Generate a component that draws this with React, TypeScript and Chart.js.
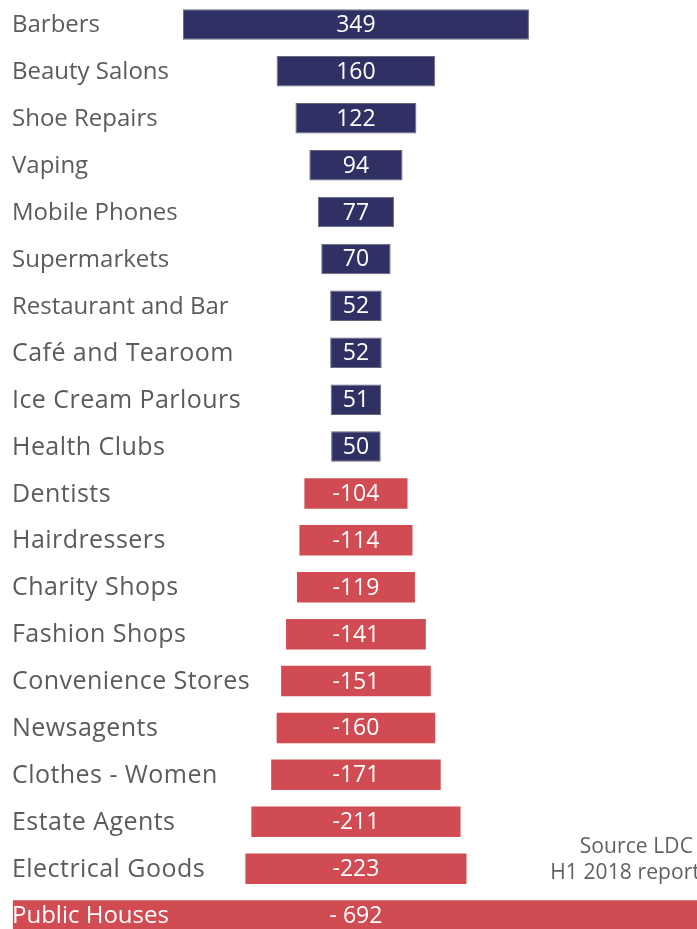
import React, { useEffect, useRef } from 'react';
import { Chart, registerables } from 'chart.js';

Chart.register(...registerables);

const categories = [
  'Barbers', 'Beauty Salons', 'Shoe Repairs', 'Vaping', 'Mobile Phones', 'Supermarkets',
  'Restaurant and Bar', 'Café and Tearoom', 'Ice Cream Parlours', 'Health Clubs',
  'Dentists', 'Hairdressers', 'Charity Shops', 'Fashion Shops', 'Convenience Stores',
  'Newsagents', 'Clothes - Women', 'Estate Agents', 'Electrical Goods', 'Public Houses',
];
const values = [349, 160, 122, 94, 77, 70, 52, 52, 51, 50, -104, -114, -119, -141, -151, -160, -171, -211, -223, -692];
const valueLabels = ['349', '160', '122', '94', '77', '70', '52', '52', '51', '50', '-104', '-114', '-119', '-141', '-151', '-160', '-171', '-211', '-223', '- 692'];
// two typefaces are mixed in the original labels: humanist (true) and geometric (false)
const humanistLabel = [true, true, true, true, true, true, true, false, false, false, false, false, false, false, false, false, false, false, false, true];
const sourceLines = ['Source LDC', 'H1 2018 report'];

const NAVY = '#2f3064';
const RED = '#d04c52';
const LABEL_GREY = '#5a5b5d';

const labelPlugin = {
  id: 'barLabels',
  afterDatasetsDraw(chart: any) {
    const ctx = chart.ctx;
    const meta = chart.getDatasetMeta(0);
    const yScale = chart.scales.y;
    ctx.save();
    ctx.textBaseline = 'middle';
    // category labels
    ctx.textAlign = 'left';
    categories.forEach((label, i) => {
      const y = yScale.getPixelForValue(i);
      const last = i === categories.length - 1;
      if (humanistLabel[i]) {
        ctx.font = '24px "Open Sans", sans-serif';
        (ctx as any).letterSpacing = '0px';
      } else {
        ctx.font = '25px "Open Sans", sans-serif';
        (ctx as any).letterSpacing = '0.45px';
      }
      ctx.fillStyle = last ? '#ffffff' : LABEL_GREY;
      ctx.fillText(label, 12, y + 1);
    });
    (ctx as any).letterSpacing = '0px';
    // value labels
    ctx.font = '23px "Open Sans", sans-serif';
    ctx.fillStyle = '#ffffff';
    ctx.textAlign = 'center';
    meta.data.forEach((bar: any, i: number) => {
      const cx = (bar.x + bar.base) / 2;
      ctx.fillText(valueLabels[i], cx, bar.y + 1);
    });
    ctx.restore();
  },
};

const sourcePlugin = {
  id: 'sourceText',
  afterDraw(chart: any) {
    const ctx = chart.ctx;
    ctx.save();
    ctx.font = '21px "Open Sans", sans-serif';
    (ctx as any).letterSpacing = '0.1px';
    ctx.fillStyle = '#5f6062';
    ctx.textAlign = 'right';
    ctx.textBaseline = 'middle';
    ctx.fillText(sourceLines[0], 693, 847);
    ctx.fillText(sourceLines[1], 700, 873);
    ctx.restore();
  },
};

export default function App() {
  const canvasRef = useRef<HTMLCanvasElement | null>(null);

  useEffect(() => {
    if (!canvasRef.current) return;
    const chart = new Chart(canvasRef.current, {
      type: 'bar',
      data: {
        labels: categories,
        datasets: [
          {
            data: values.map((v) => [-Math.abs(v) / 2, Math.abs(v) / 2]) as any,
            backgroundColor: values.map((v) => (v >= 0 ? NAVY : RED)),
            borderColor: values.map((v) => (v >= 0 ? '#6a6a78' : RED)),
            borderWidth: values.map((v) => (v >= 0 ? 1 : 0)),
            borderSkipped: false,
            categoryPercentage: 1,
            barPercentage: 0.65,
          },
        ],
      },
      options: {
        indexAxis: 'y',
        animation: false,
        responsive: false,
        maintainAspectRatio: false,
        devicePixelRatio: 1,
        layout: { autoPadding: false, padding: { top: 1, left: 0, right: 0, bottom: 0 } },
        plugins: {
          legend: { display: false },
          tooltip: { enabled: false },
        },
        scales: {
          x: {
            type: 'linear',
            min: -359,
            max: 344,
            display: false,
          },
          y: {
            type: 'category',
            display: false,
          },
        },
      },
      plugins: [labelPlugin, sourcePlugin],
    });
    return () => chart.destroy();
  }, []);

  return (
    <div style={{ position: 'fixed', left: 0, top: 0, width: 697, height: 929, overflow: 'hidden', background: '#fff' }}>
      <canvas ref={canvasRef} width={697} height={939} style={{ display: 'block', width: 697, height: 939 }} />
    </div>
  );
}
